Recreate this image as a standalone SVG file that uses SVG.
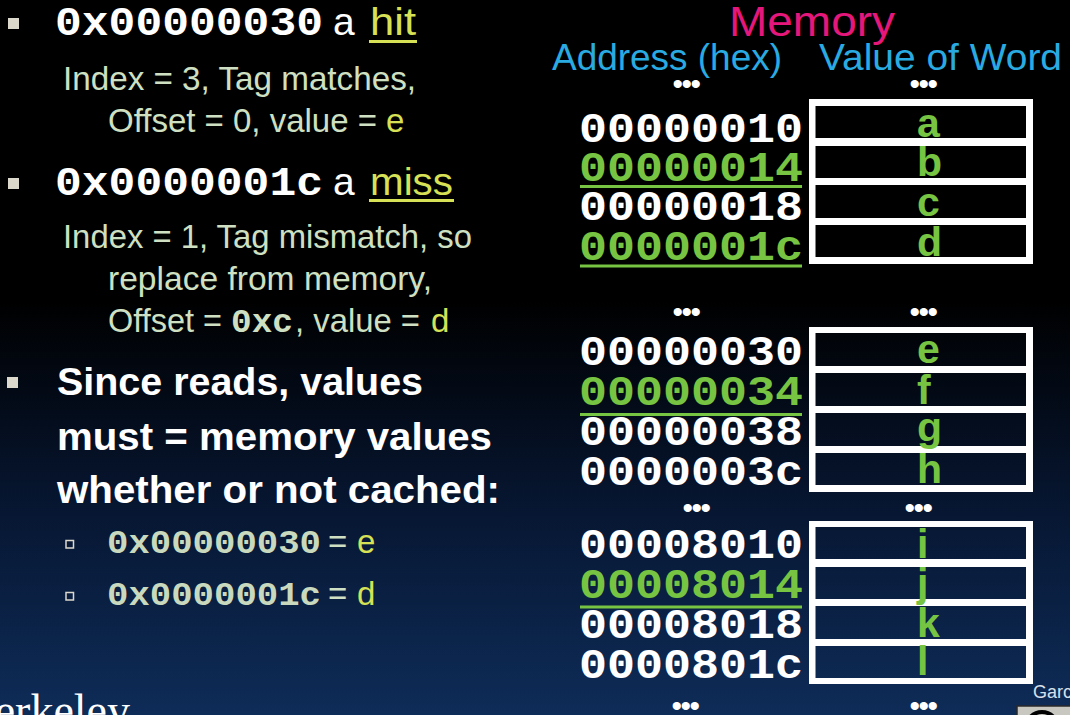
<svg xmlns="http://www.w3.org/2000/svg" width="1070" height="715" viewBox="0 0 1070 715">
<defs>
<linearGradient id="bg" x1="0" y1="0" x2="0" y2="1">
<stop offset="0" stop-color="#000000"/>
<stop offset="0.42" stop-color="#000000"/>
<stop offset="0.72" stop-color="#071733"/>
<stop offset="1" stop-color="#0e2c58"/>
</linearGradient>
<style>
.mono{font-family:"Liberation Mono","Courier New",monospace;font-weight:bold}
.sans{font-family:"Liberation Sans",Arial,sans-serif}
.body{font-family:"Liberation Sans",Arial,sans-serif;font-size:33px;fill:#cfe0c2}
.yg{fill:#d6e155}
.big{font-family:"Liberation Sans",Arial,sans-serif;font-size:38px;font-weight:bold;fill:#ffffff}
.addr{font-family:"Liberation Mono","Courier New",monospace;font-weight:bold;font-size:43px;fill:#ffffff}
.addrg{fill:#76c442}
.val{font-family:"Liberation Sans",Arial,sans-serif;font-weight:bold;font-size:41px;fill:#76c442}
.dots{font-family:"Liberation Sans",Arial,sans-serif;font-size:30px;letter-spacing:-1.5px;fill:#ffffff;text-anchor:middle}
.frame{fill:#ffffff;fill-rule:evenodd}
.bul{fill:#dcd8cc}
.sub{fill:none;stroke:#dcd8cc;stroke-width:1.5}
.hdr{font-family:"Liberation Sans",Arial,sans-serif;fill:#29abe2;font-size:37px}
</style>
</defs>
<rect x="0" y="0" width="1070" height="715" fill="url(#bg)"/>

<g id="bullet-hit">
<rect class="bul" x="8" y="18" width="11" height="11"/>
<text class="mono" x="55" y="35" font-size="41" fill="#ffffff" textLength="268" lengthAdjust="spacingAndGlyphs">0x00000030</text>
<text class="sans" x="333" y="35" font-size="39" fill="#ffffff">a</text>
<text class="sans yg" x="370" y="35" font-size="39" textLength="46" lengthAdjust="spacingAndGlyphs">hit</text>
<rect class="yg" x="369" y="40" width="48" height="3"/>
<text class="body" x="63" y="90" textLength="353" lengthAdjust="spacingAndGlyphs">Index = 3, Tag matches,</text>
<text class="body" x="108" y="132" textLength="269" lengthAdjust="spacingAndGlyphs">Offset = 0, value =</text>
<text class="body yg" x="386" y="132">e</text>
</g>

<g id="bullet-miss">
<rect class="bul" x="8" y="178" width="11" height="11"/>
<text class="mono" x="55" y="195" font-size="41" fill="#ffffff" textLength="268" lengthAdjust="spacingAndGlyphs">0x0000001c</text>
<text class="sans" x="333" y="195" font-size="39" fill="#ffffff">a</text>
<text class="sans yg" x="370" y="195" font-size="39" textLength="83" lengthAdjust="spacingAndGlyphs">miss</text>
<rect class="yg" x="369" y="199" width="85" height="3"/>
<text class="body" x="63" y="248" textLength="409" lengthAdjust="spacingAndGlyphs">Index = 1, Tag mismatch, so</text>
<text class="body" x="108" y="290" textLength="324" lengthAdjust="spacingAndGlyphs">replace from memory,</text>
<text class="body" x="108" y="332" textLength="114" lengthAdjust="spacingAndGlyphs">Offset =</text>
<text class="mono" x="231" y="332" font-size="34" fill="#cfe0c2" textLength="62" lengthAdjust="spacingAndGlyphs">0xc</text>
<text class="body" x="295" y="332" textLength="125" lengthAdjust="spacingAndGlyphs">, value =</text>
<text class="body yg" x="431" y="332">d</text>
</g>

<g id="bullet-reads">
<rect class="bul" x="7" y="377" width="11" height="11"/>
<text class="big" x="57" y="395" textLength="366" lengthAdjust="spacingAndGlyphs">Since reads, values</text>
<text class="big" x="57" y="450" textLength="435" lengthAdjust="spacingAndGlyphs">must = memory values</text>
<text class="big" x="57" y="503" textLength="443" lengthAdjust="spacingAndGlyphs">whether or not cached:</text>
<rect class="sub" x="66" y="540.5" width="7.5" height="7.5"/>
<text class="mono" x="107" y="553" font-size="33" fill="#c8d9bd" textLength="214" lengthAdjust="spacingAndGlyphs">0x00000030</text>
<text class="body" x="328" y="553">=</text>
<text class="body yg" x="357" y="553">e</text>
<rect class="sub" x="66" y="592.5" width="7.5" height="7.5"/>
<text class="mono" x="107" y="605" font-size="33" fill="#c8d9bd" textLength="214" lengthAdjust="spacingAndGlyphs">0x0000001c</text>
<text class="body" x="328" y="605">=</text>
<text class="body yg" x="357" y="605">d</text>
</g>

<g id="memory-header">
<text class="sans" x="729" y="36" font-size="42" fill="#e5177b" textLength="166" lengthAdjust="spacingAndGlyphs">Memory</text>
<text class="hdr" x="552" y="70" textLength="230" lengthAdjust="spacingAndGlyphs">Address (hex)</text>
<text class="hdr" x="819" y="70" textLength="243" lengthAdjust="spacingAndGlyphs">Value of Word</text>
<text class="dots" x="686" y="94">•••</text>
<text class="dots" x="923" y="94">•••</text>
</g>

<g id="block-10">
<path class="frame" d="M809,99H1033V264H809Z M815.5,106H1026V138H815.5Z M815.5,146H1026V178H815.5Z M815.5,185H1026V218H815.5Z M815.5,225H1026V257H815.5Z"/>
<text class="addr" x="579" y="142" textLength="224" lengthAdjust="spacingAndGlyphs">00000010</text>
<text class="addr addrg" x="579" y="181" textLength="224" lengthAdjust="spacingAndGlyphs">00000014</text>
<rect class="addrg" x="580" y="185" width="222" height="3"/>
<text class="addr" x="579" y="220" textLength="224" lengthAdjust="spacingAndGlyphs">00000018</text>
<text class="addr addrg" x="579" y="260" textLength="224" lengthAdjust="spacingAndGlyphs">0000001c</text>
<rect class="addrg" x="580" y="264.5" width="222" height="3"/>
<text class="val" x="917" y="137">a</text>
<text class="val" x="917" y="176">b</text>
<text class="val" x="917" y="216">c</text>
<text class="val" x="917" y="256">d</text>
</g>

<g id="gap-1">
<text class="dots" x="686" y="322">•••</text>
<text class="dots" x="923" y="322">•••</text>
</g>

<g id="block-30">
<path class="frame" d="M809,327H1033V492H809Z M815.5,333H1026V366H815.5Z M815.5,373H1026V406H815.5Z M815.5,413H1026V446H815.5Z M815.5,453H1026V485H815.5Z"/>
<text class="addr" x="579" y="365" textLength="224" lengthAdjust="spacingAndGlyphs">00000030</text>
<text class="addr addrg" x="579" y="405" textLength="224" lengthAdjust="spacingAndGlyphs">00000034</text>
<rect class="addrg" x="580" y="413" width="222" height="3"/>
<text class="addr" x="579" y="445" textLength="224" lengthAdjust="spacingAndGlyphs">00000038</text>
<text class="addr" x="579" y="485" textLength="224" lengthAdjust="spacingAndGlyphs">0000003c</text>
<text class="val" x="917" y="363">e</text>
<text class="val" x="917" y="404">f</text>
<text class="val" x="917" y="441">g</text>
<text class="val" x="917" y="483">h</text>
</g>

<g id="gap-2">
<text class="dots" x="696" y="518">•••</text>
<text class="dots" x="918" y="518">•••</text>
</g>

<g id="block-8010">
<path class="frame" d="M809,521H1033V684H809Z M815.5,527H1026V559H815.5Z M815.5,567H1026V599H815.5Z M815.5,606H1026V639H815.5Z M815.5,646H1026V678H815.5Z"/>
<text class="addr" x="579" y="558" textLength="224" lengthAdjust="spacingAndGlyphs">00008010</text>
<text class="addr addrg" x="579" y="598" textLength="224" lengthAdjust="spacingAndGlyphs">00008014</text>
<rect class="addrg" x="580" y="605.5" width="222" height="3"/>
<text class="addr" x="579" y="638" textLength="224" lengthAdjust="spacingAndGlyphs">00008018</text>
<text class="addr" x="579" y="678" textLength="224" lengthAdjust="spacingAndGlyphs">0000801c</text>
<text class="val" x="917" y="558">i</text>
<text class="val" x="917" y="597">j</text>
<text class="val" x="917" y="637">k</text>
<text class="val" x="917" y="675">l</text>
</g>

<g id="gap-3">
<text class="dots" x="685" y="716">•••</text>
<text class="dots" x="923" y="716">•••</text>
</g>

<g id="footer">
<text x="-36" y="726" font-family="Liberation Serif,'Times New Roman',serif" font-size="46" fill="#ffffff">Berkeley</text>
<text class="sans" x="1033" y="698" font-size="18" fill="#d8e0ec">Garcia</text>
<rect x="1017" y="706" width="60" height="20" fill="#c8c8c0" stroke="#2a2a2a" stroke-width="1.5"/>
<circle cx="1042" cy="728" r="16" fill="#c8c8c0" stroke="#000000" stroke-width="4"/>
</g>
</svg>
